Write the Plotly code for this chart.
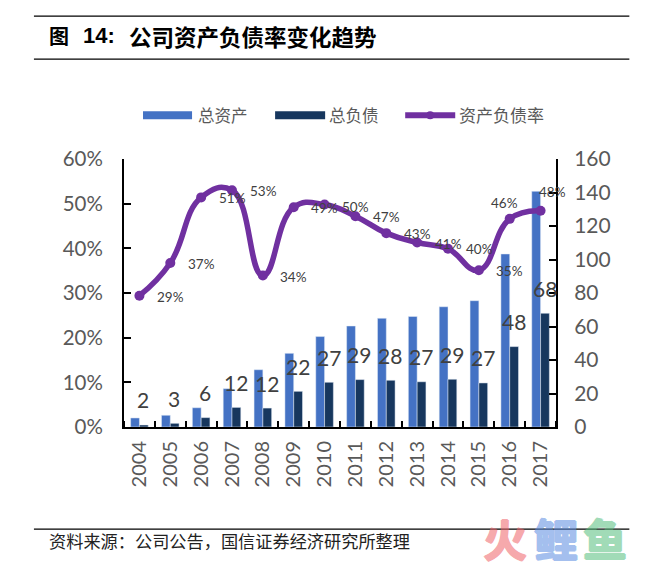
import plotly.graph_objects as go

W, H = 650, 562
LEFT, RIGHT, TOP, BOTTOM = 124, 555.7, 159.3, 427.3

CJK = "Noto Sans CJK SC"
LATIN = "Lato"

years = [2004, 2005, 2006, 2007, 2008, 2009, 2010,
         2011, 2012, 2013, 2014, 2015, 2016, 2017]
total_assets = [5.4, 7, 11.5, 22.9, 34.2, 44, 54, 60.3, 64.9, 66, 71.8, 75.4, 103.3, 140.7]
total_debt = [1.2, 2.2, 5.6, 11.7, 11.3, 21.3, 26.7, 28.3, 27.9, 27, 28.5, 26.3, 48, 67.9]
debt_ratio = [0.294, 0.367, 0.514, 0.53, 0.339, 0.492, 0.498, 0.472,
              0.434, 0.413, 0.399, 0.351, 0.466, 0.484]
debt_labels = ["2", "3", "6", "12", "12", "22", "27", "29", "28", "27", "29", "27", "48", "68"]
ratio_labels = ["29%", "37%", "51%", "53%", "34%", "49%", "50%", "47%",
                "43%", "41%", "40%", "35%", "46%", "48%"]

# the ratio labels sit one category to the right of their points, except the last two
ratio_xshift = [31, 31, 31, 31, 31, 31, 31, 31, 31, 31, 31, 31, -5, 12]
ratio_yshift = [-1, -1, -1, -1, -1, -1, -2, -1, -1, -1, 0, -1, 16, 19]

BLUE = "#4472C4"
NAVY = "#17375E"
PURPLE = "#7030A0"
GREY = "#595959"
TEXT = "#404040"


def px(x):
    return (x - LEFT) / (RIGHT - LEFT)


def py(y):
    return (BOTTOM - y) / (BOTTOM - TOP)


def page_text(x, y, text, size, color, font=CJK, anchor="left"):
    return dict(x=px(x), y=py(y), xref="paper", yref="paper", text=text, showarrow=False,
                xanchor=anchor, yanchor="middle", font=dict(family=font, size=size, color=color))


def watermark(x, text, color):
    # a same coloured shadow thickens the strokes, the opacity covers text and shadow together
    item = page_text(x, 538, "<b>" + text + "</b>", 44, color, anchor="center")
    item["opacity"] = 0.55
    item["font"]["shadow"] = f"1px 0 0 {color}, -1px 0 0 {color}, 0 1px 0 {color}, 0 -1px 0 {color}"
    return item


def page_rule(x0, x1, y):
    return dict(type="line", xref="paper", yref="paper", x0=px(x0), x1=px(x1), y0=py(y), y1=py(y),
                line=dict(color="black", width=1.3))


def swatch(x0, x1, color):
    return dict(type="rect", xref="paper", yref="paper", x0=px(x0), x1=px(x1), y0=py(119.5), y1=py(111.5),
                fillcolor=color, line=dict(width=0))


fig = go.Figure()
fig.add_trace(go.Bar(x=years, y=total_assets, name="总资产", marker_color=BLUE, yaxis="y"))
fig.add_trace(go.Bar(x=years, y=total_debt, name="总负债", marker_color=NAVY, yaxis="y"))
fig.add_trace(go.Scatter(x=years, y=debt_ratio, name="资产负债率", yaxis="y2", mode="lines+markers",
                         line=dict(color=PURPLE, width=5.5, shape="spline", smoothing=1.3),
                         marker=dict(color=PURPLE, size=10)))

annotations = []
for year, value, label in zip(years, total_debt, debt_labels):
    annotations.append(dict(x=year, y=value, xref="x", yref="y", text=label, showarrow=False,
                            xshift=4, yshift=25, font=dict(family=LATIN, size=21, color=TEXT)))
for year, value, label, dx, dy in zip(years, debt_ratio, ratio_labels, ratio_xshift, ratio_yshift):
    annotations.append(dict(x=year, y=value, xref="x", yref="y2", text=label, showarrow=False,
                            xshift=dx, yshift=dy, font=dict(family=LATIN, size=13.5, color=TEXT)))

annotations += [
    page_text(47, 36, "<b>图</b>", 20, "black"),
    page_text(81, 36, "<b>14:</b>", 22, "black", font="Liberation Sans"),
    page_text(127, 36, "<b>公司资产负债率变化趋势</b>", 22.5, "black"),
    page_text(196, 115, "总资产", 16.5, GREY),
    page_text(327, 115, "总负债", 16.5, GREY),
    page_text(457, 115, "资产负债率", 17, GREY),
    page_text(47, 541, "资料来源\uff1a公司公告\uff0c国信证券经济研究所整理", 17.2, "#222222"),
    watermark(505, "火", "#F0646A"),
    watermark(556, "鲤", "#5A8CE1"),
    watermark(605, "鱼", "#55BE7D"),
]

shapes = [
    page_rule(34, 629, 16.5),
    page_rule(34, 629, 59.5),
    page_rule(34, 629, 529.5),
    swatch(143, 192, BLUE),
    swatch(275, 325, NAVY),
    dict(type="line", xref="paper", yref="paper", x0=px(405), x1=px(455), y0=py(115.5), y1=py(115.5),
         line=dict(color=PURPLE, width=6)),
    dict(type="circle", xref="paper", yref="paper", x0=px(426), x1=px(434), y0=py(119.5), y1=py(111.5),
         fillcolor=PURPLE, line=dict(width=0)),
]

fig.update_layout(
    width=W, height=H,
    margin=dict(l=LEFT, r=W - RIGHT, t=TOP, b=H - BOTTOM, autoexpand=False),
    paper_bgcolor="white", plot_bgcolor="white",
    showlegend=False,
    barmode="group", bargap=0.43, bargroupgap=0,
    annotations=annotations, shapes=shapes,
    xaxis=dict(range=[2003.5, 2017.5], tickmode="array", tickvals=years, tickformat="d", tickangle=-90,
               ticks="", ticklabelstandoff=4,
               minor=dict(tick0=2003.5, dtick=1, ticks="inside", ticklen=6, tickwidth=2, tickcolor="black",
                          showgrid=False),
               showline=True, linecolor="black", linewidth=2, showgrid=False, zeroline=False,
               tickfont=dict(family=LATIN, size=20, color=GREY)),
    yaxis=dict(side="right", range=[0, 160], dtick=20, ticks="inside", ticklen=7, tickwidth=2,
               ticklabelstandoff=12,
               tickcolor="black", showline=True, linecolor="black", linewidth=2, showgrid=False,
               zeroline=False, tickfont=dict(family=LATIN, size=21, color=GREY)),
    yaxis2=dict(side="left", overlaying="y", range=[0, 0.6], dtick=0.1, tickformat=".0%", ticks="inside",
                ticklabelstandoff=15,
                ticklen=7, tickwidth=2, tickcolor="black", showline=True, linecolor="black", linewidth=2,
                showgrid=False, zeroline=False, tickfont=dict(family=LATIN, size=20.5, color=GREY)),
)

# the page margin would push the whole chart 8px away from the corner
fig.write_html("out.html", config=dict(displayModeBar=False),
               post_script="document.body.style.margin = '0';")
